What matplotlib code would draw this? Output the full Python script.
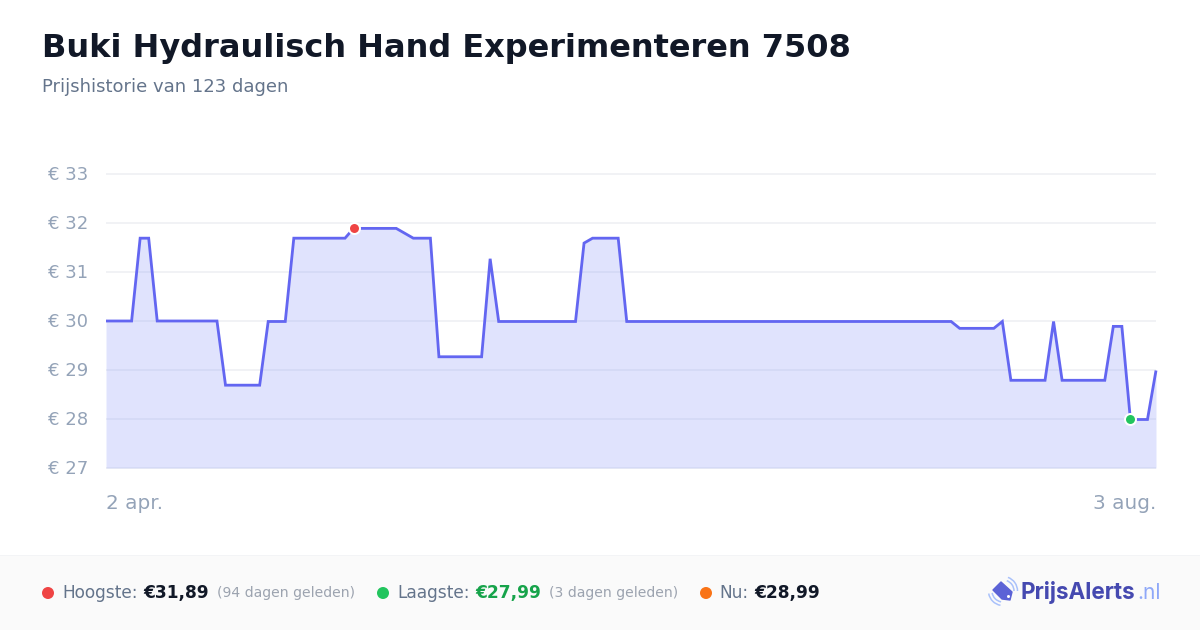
import matplotlib
matplotlib.use("Agg")
import matplotlib.pyplot as plt
from matplotlib.patches import Rectangle, Circle, Polygon, Arc
from matplotlib.transforms import ScaledTranslation

W, H = 1200, 630
PX = 0.72  # points per pixel at dpi=100

title = "Buki Hydraulisch Hand Experimenteren 7508"
subtitle = "Prijshistorie van 123 dagen"

prices = [
    30.0, 30.0, 30.0, 30.0, 31.69, 31.69, 30.0, 30.0, 30.0, 30.0,
    30.0, 30.0, 30.0, 30.0, 28.69, 28.69, 28.69, 28.69, 28.69, 29.99,
    29.99, 29.99, 31.69, 31.69, 31.69, 31.69, 31.69, 31.69, 31.69, 31.89,
    31.89, 31.89, 31.89, 31.89, 31.89, 31.79, 31.69, 31.69, 31.69, 29.27,
    29.27, 29.27, 29.27, 29.27, 29.27, 31.27, 29.99, 29.99, 29.99, 29.99,
    29.99, 29.99, 29.99, 29.99, 29.99, 29.99, 31.59, 31.69, 31.69, 31.69,
    31.69, 29.99, 29.99, 29.99, 29.99, 29.99, 29.99, 29.99, 29.99, 29.99,
    29.99, 29.99, 29.99, 29.99, 29.99, 29.99, 29.99, 29.99, 29.99, 29.99,
    29.99, 29.99, 29.99, 29.99, 29.99, 29.99, 29.99, 29.99, 29.99, 29.99,
    29.99, 29.99, 29.99, 29.99, 29.99, 29.99, 29.99, 29.99, 29.99, 29.99,
    29.85, 29.85, 29.85, 29.85, 29.85, 29.99, 28.79, 28.79, 28.79, 28.79,
    28.79, 29.99, 28.79, 28.79, 28.79, 28.79, 28.79, 28.79, 29.89, 29.89,
    27.99, 27.99, 27.99, 28.99,
]
days = list(range(len(prices)))
y_ticks = [27, 28, 29, 30, 31, 32, 33]
y_labels = ["€ 27", "€ 28", "€ 29", "€ 30", "€ 31", "€ 32", "€ 33"]
x_ticks = [0, 123]
x_labels = ["2 apr.", "3 aug."]
high_day, high_price = 29, 31.89
low_day, low_price = 120, 27.99

LINE = "#6366f1"
fig = plt.figure(figsize=(W / 100, H / 100), dpi=100, facecolor="white")
plt.rcParams["font.family"] = "DejaVu Sans"

# page layer in pixel coordinates
bg = fig.add_axes([0, 0, 1, 1])
bg.set_xlim(0, W)
bg.set_ylim(H, 0)
bg.axis("off")
bg.add_patch(Rectangle((0, 555), W, 75, fc="#fafafa", ec="none"))
bg.plot([0, W], [554.5, 554.5], color="#f3f4f6", lw=1 * PX)

bg.text(42, 48, title, fontsize=32 * PX, fontweight="bold", color="#111827", va="center", ha="left")
bg.text(42, 87, subtitle, fontsize=18 * PX, color="#64748b", va="center", ha="left")

# chart
ax = fig.add_axes([106 / W, 1 - 468 / H, 1050 / W, 294 / H], facecolor="none")
ax.set_xlim(0, 123)
ax.set_ylim(27, 33)
for s in ax.spines.values():
    s.set_visible(False)
ax.set_yticks(y_ticks, y_labels)
ax.set_xticks(x_ticks, x_labels)
ax.tick_params(axis="y", length=0, labelsize=18 * PX, labelcolor="#94a3b8", pad=18 * PX)
ax.tick_params(axis="x", length=0, labelsize=20 * PX, labelcolor="#94a3b8", pad=26 * PX)
xl = ax.get_xticklabels()
xl[0].set_ha("left")
xl[1].set_ha("right")
up = ScaledTranslation(0, 0.75 / 100, fig.dpi_scale_trans)
for lbl in ax.get_yticklabels():
    lbl.set_transform(lbl.get_transform() + up)
ax.grid(axis="y", color="#f1f2f5", lw=2 * PX, zorder=0)
ax.grid(axis="x", visible=False)
ax.set_axisbelow(True)
for g in ax.get_ygridlines():
    g.set_clip_on(False)
    g.set_solid_capstyle("butt")
ax.fill_between(days, prices, 27, color="#7c8cfa", alpha=0.235, lw=0, zorder=2)
ax.plot(days, prices, color=LINE, lw=2.8 * PX, solid_joinstyle="miter", solid_capstyle="butt", zorder=3, clip_on=False)
ax.plot([high_day], [high_price], "o", ms=11 * PX, mfc="#ef4444", mec="white", mew=2 * PX, zorder=4, clip_on=False)
ax.plot([low_day], [low_price], "o", ms=11 * PX, mfc="#22c55e", mec="white", mew=2 * PX, zorder=4, clip_on=False)

# footer legend
cy = 593
LBL, MUT = "#64748b", "#9ca3af"
FS, FM = 17 * PX, 14 * PX
def t(x, s, color, size=FS, weight="normal"):
    bg.text(x, cy, s, fontsize=size, color=color, fontweight=weight, va="center", ha="left")
bg.add_patch(Circle((48, cy), 6, fc="#ef4444", ec="none"))
t(62, "Hoogste:", LBL)
t(143, "€31,89", "#111827", weight="bold")
t(217, "(94 dagen geleden)", MUT, FM)
bg.add_patch(Circle((383, cy), 6, fc="#22c55e", ec="none"))
t(397, "Laagste:", LBL)
t(475, "€27,99", "#16a34a", weight="bold")
t(549, "(3 dagen geleden)", MUT, FM)
bg.add_patch(Circle((706, cy), 6, fc="#f97316", ec="none"))
t(719.5, "Nu:", LBL)
t(754, "€28,99", "#111827", weight="bold")

# logo
bg.add_patch(Polygon([(1001, 582), (1012, 592), (1010, 600), (1002, 599), (993, 590)],
                     closed=True, fc="#5b62d6", ec="#5b62d6", lw=1, joinstyle="round"))
bg.add_patch(Circle((1008.5, 596.5), 1.5, fc="white", ec="none"))
for r in (11, 14.5):
    bg.add_patch(Arc((1003, 591), 2 * r, 2 * r, theta1=-70, theta2=0, color="#a9c1fb", lw=1.1))
    bg.add_patch(Arc((1003, 591), 2 * r, 2 * r, theta1=100, theta2=170, color="#a9c1fb", lw=1.1))
bg.text(1021, 593, "PrijsAlerts", fontsize=22.5 * PX, fontweight="bold", family="Inter", color="#4549b0", va="center", ha="left")
bg.text(1137, 593, ".nl", fontsize=21 * PX, family="Inter", color="#8fa8f8", va="center", ha="left")

fig.savefig("out.png", dpi=100, facecolor="white")
